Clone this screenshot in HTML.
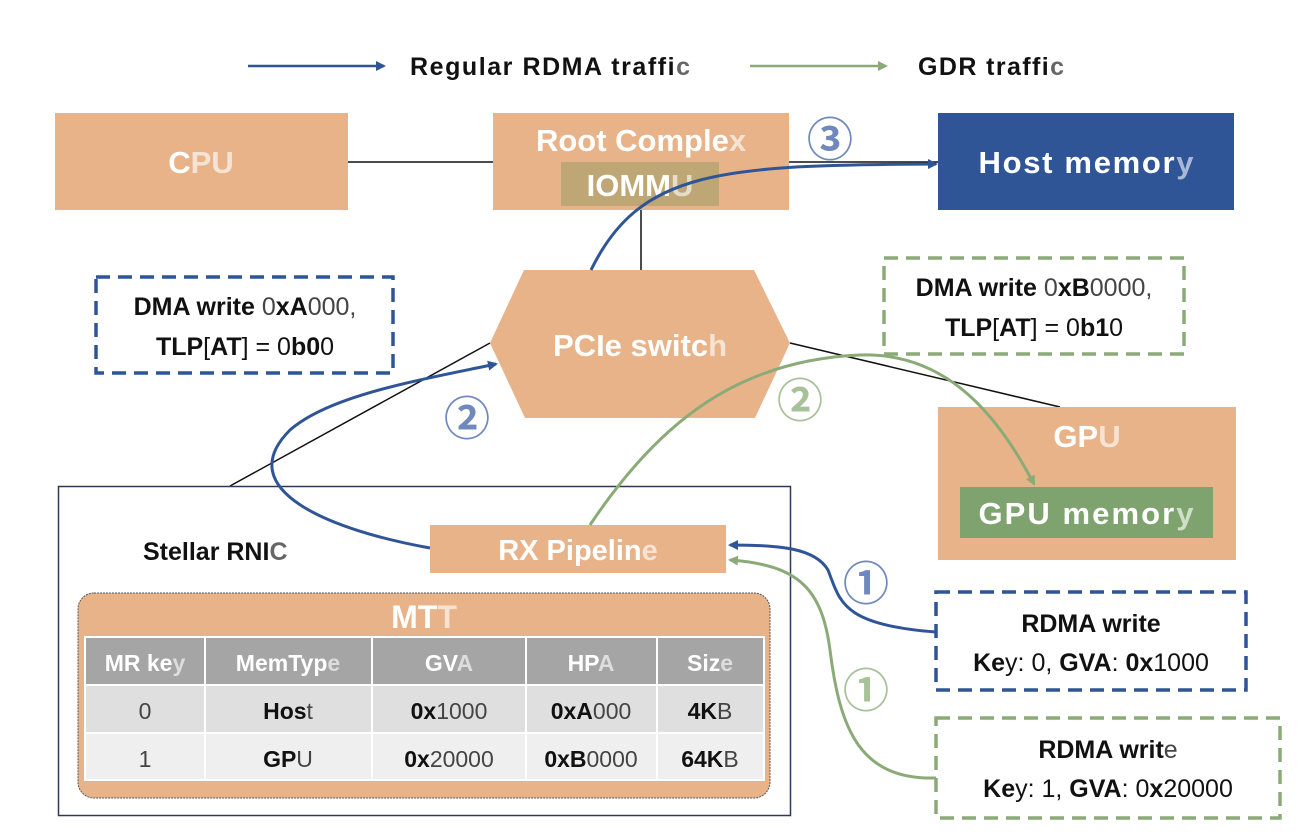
<!DOCTYPE html>
<html><head><meta charset="utf-8"><style>
html,body{margin:0;padding:0;background:#fff;}
svg{display:block;font-family:"Liberation Sans",sans-serif;}
.w{fill:#fff;font-weight:bold;}
</style></head><body>
<svg width="1312" height="836" viewBox="0 0 1312 836" xmlns="http://www.w3.org/2000/svg">
<defs>
<marker id="ab" markerWidth="10" markerHeight="10" refX="8" refY="5" orient="auto" markerUnits="userSpaceOnUse"><path d="M0,0 L10,5 L0,10 z" fill="#2F5597"/></marker>
<marker id="ag" markerWidth="10" markerHeight="10" refX="8" refY="5" orient="auto" markerUnits="userSpaceOnUse"><path d="M0,0 L10,5 L0,10 z" fill="#8AAB78"/></marker>
</defs>
<!-- legend -->
<line x1="248" y1="66" x2="384" y2="66" stroke="#2F5597" stroke-width="2.5" marker-end="url(#ab)"/>
<text x="410" y="75" font-size="25" font-weight="bold" fill="#111" textLength="280">Regular RDMA traffi<tspan fill="#666">c</tspan></text>
<line x1="750" y1="66" x2="886" y2="66" stroke="#8AAB78" stroke-width="2.5" marker-end="url(#ag)"/>
<text x="918" y="75" font-size="25" font-weight="bold" fill="#111" textLength="146">GDR traffi<tspan fill="#666">c</tspan></text>

<!-- connector lines -->
<line x1="348" y1="162" x2="493" y2="162" stroke="#111" stroke-width="1.5"/>
<line x1="789" y1="162" x2="938" y2="162" stroke="#111" stroke-width="1.5"/>
<line x1="641" y1="210" x2="641" y2="270" stroke="#111" stroke-width="1.5"/>
<line x1="490" y1="343" x2="230" y2="486" stroke="#111" stroke-width="1.5"/>
<line x1="790" y1="343" x2="1060" y2="407" stroke="#111" stroke-width="1.5"/>

<!-- CPU -->
<rect x="55" y="113" width="293" height="97" fill="#E9B38A"/>
<text x="201" y="173" font-size="31" class="w" text-anchor="middle">C<tspan fill="#f7e3d3">PU</tspan></text>
<!-- Root complex -->
<rect x="493" y="113" width="296" height="97" fill="#E9B38A"/>
<text x="641" y="151" font-size="31" class="w" text-anchor="middle">Root Comple<tspan fill="#f7e3d3">x</tspan></text>
<rect x="561" y="162" width="158" height="44" fill="#BFA675"/>
<text x="640" y="196" font-size="31" class="w" text-anchor="middle">IOMM<tspan fill="#e6dccb">U</tspan></text>
<!-- Host memory -->
<rect x="938" y="113" width="296" height="97" fill="#2F5597"/>
<text x="1086" y="173" font-size="31" class="w" text-anchor="middle" textLength="215">Host memor<tspan fill="#aab8d6">y</tspan></text>

<!-- PCIe switch -->
<polygon points="524,270 754,270 790,343 755,418 525,418 490,343" fill="#E9B38A"/>
<text x="640" y="356" font-size="31" class="w" text-anchor="middle">PCIe switc<tspan fill="#f7e3d3">h</tspan></text>

<!-- DMA boxes -->
<rect x="96" y="277" width="297" height="96" fill="#fff" stroke="#2F5597" stroke-width="3.5" stroke-dasharray="14,8"/>
<text x="245" y="315" font-size="25" fill="#111" text-anchor="middle"><tspan font-weight="bold">DMA write </tspan><tspan fill="#444">0</tspan><tspan font-weight="bold">xA</tspan><tspan fill="#444">000,</tspan></text>
<text x="245" y="355" font-size="25" fill="#111" text-anchor="middle"><tspan font-weight="bold">TLP</tspan>[<tspan font-weight="bold">AT</tspan>] = 0<tspan font-weight="bold">b0</tspan>0</text>
<rect x="884" y="258" width="300" height="96" fill="#fff" stroke="#8AAB78" stroke-width="3.5" stroke-dasharray="14,8"/>
<text x="1034" y="296" font-size="25" fill="#111" text-anchor="middle"><tspan font-weight="bold">DMA write </tspan><tspan fill="#444">0</tspan><tspan font-weight="bold">xB</tspan><tspan fill="#444">0000,</tspan></text>
<text x="1034" y="336" font-size="25" fill="#111" text-anchor="middle"><tspan font-weight="bold">TLP</tspan>[<tspan font-weight="bold">AT</tspan>] = 0<tspan font-weight="bold">b1</tspan>0</text>

<!-- GPU -->
<rect x="938" y="407" width="298" height="153" fill="#E9B38A"/>
<text x="1087" y="447" font-size="31" class="w" text-anchor="middle">GP<tspan fill="#f7e3d3">U</tspan></text>
<rect x="960" y="487" width="253" height="51" fill="#7FA36F"/>
<text x="1086" y="524" font-size="31" class="w" text-anchor="middle" textLength="215">GPU memor<tspan fill="#cfdec6">y</tspan></text>

<!-- Stellar RNIC -->
<rect x="58.5" y="486.5" width="732" height="329" fill="none" stroke="#2b3a55" stroke-width="1.5"/>
<text x="143" y="560" font-size="25" font-weight="bold" fill="#111">Stellar RNI<tspan fill="#666">C</tspan></text>
<rect x="430" y="525" width="296" height="48" fill="#E9B38A"/>
<text x="578" y="560" font-size="29" class="w" text-anchor="middle">RX Pipelin<tspan fill="#f7e3d3">e</tspan></text>

<!-- MTT -->
<rect x="78" y="593" width="692" height="205" rx="16" fill="#E9B38A" stroke="#555" stroke-width="1" stroke-dasharray="2,1"/>
<text x="424" y="628" font-size="32" class="w" text-anchor="middle">MT<tspan fill="#f7e3d3">T</tspan></text>
<rect x="85" y="637" width="679" height="47" fill="#A5A5A5"/>
<rect x="85" y="686" width="679" height="46" fill="#DFDFDF"/>
<rect x="85" y="734" width="679" height="46" fill="#EFEFEF"/>
<g stroke="#fff" stroke-width="2">
<line x1="85" y1="685" x2="764" y2="685"/><line x1="85" y1="733" x2="764" y2="733"/>
<line x1="205" y1="637" x2="205" y2="780"/><line x1="372" y1="637" x2="372" y2="780"/>
<line x1="526" y1="637" x2="526" y2="780"/><line x1="657" y1="637" x2="657" y2="780"/>
<rect x="85" y="637" width="679" height="143" fill="none"/>
</g>
<g font-size="23" text-anchor="middle">
<text x="145" y="671" class="w">MR ke<tspan fill="#ddd">y</tspan></text>
<text x="288" y="671" class="w">MemTyp<tspan fill="#ddd">e</tspan></text>
<text x="449" y="671" class="w">GV<tspan fill="#ddd">A</tspan></text>
<text x="591" y="671" class="w">HP<tspan fill="#ddd">A</tspan></text>
<text x="710" y="671" class="w">Siz<tspan fill="#ddd">e</tspan></text>
<text x="145" y="719" fill="#444">0</text>
<text x="288" y="719" fill="#111"><tspan font-weight="bold">Hos</tspan><tspan fill="#444">t</tspan></text>
<text x="449" y="719" fill="#444"><tspan font-weight="bold" fill="#111">0x</tspan>1000</text>
<text x="591" y="719" fill="#444"><tspan font-weight="bold" fill="#111">0xA</tspan>000</text>
<text x="710" y="719" fill="#444"><tspan font-weight="bold" fill="#111">4K</tspan>B</text>
<text x="145" y="767" fill="#444">1</text>
<text x="288" y="767" fill="#111"><tspan font-weight="bold">GP</tspan><tspan fill="#444">U</tspan></text>
<text x="449" y="767" fill="#444"><tspan font-weight="bold" fill="#111">0x</tspan>20000</text>
<text x="591" y="767" fill="#444"><tspan font-weight="bold" fill="#111">0xB</tspan>0000</text>
<text x="710" y="767" fill="#444"><tspan font-weight="bold" fill="#111">64K</tspan>B</text>
</g>

<!-- RDMA write boxes -->
<rect x="936" y="592" width="310" height="98" fill="#fff" stroke="#2F5597" stroke-width="3.5" stroke-dasharray="14,8"/>
<text x="1091" y="632" font-size="25" font-weight="bold" fill="#111" text-anchor="middle">RDMA write</text>
<text x="1091" y="671" font-size="25" fill="#111" text-anchor="middle"><tspan font-weight="bold">Ke</tspan>y: 0, <tspan font-weight="bold">GVA</tspan>: <tspan font-weight="bold">0x</tspan>1000</text>
<rect x="936" y="718" width="344" height="100" fill="#fff" stroke="#8AAB78" stroke-width="3.5" stroke-dasharray="14,8"/>
<text x="1108" y="758" font-size="25" font-weight="bold" fill="#111" text-anchor="middle">RDMA writ<tspan fill="#444" font-weight="normal">e</tspan></text>
<text x="1108" y="797" font-size="25" fill="#111" text-anchor="middle"><tspan font-weight="bold">Ke</tspan>y: 1, <tspan font-weight="bold">GVA</tspan>: 0<tspan font-weight="bold">x</tspan>20000</text>

<!-- curves -->
<path d="M430,548 C330,530 230,490 290,430 C330,395 420,380 496,364" fill="none" stroke="#2F5597" stroke-width="3" marker-end="url(#ab)"/>
<path d="M591,270 C640,170 720,165 936,164" fill="none" stroke="#2F5597" stroke-width="3" marker-end="url(#ab)"/>
<path d="M936,632 C840,625 840,600 828,570 C815,548 780,545 730,545" fill="none" stroke="#2F5597" stroke-width="3" marker-end="url(#ab)"/>
<path d="M590,525 C660,420 740,360 860,355 C950,352 1000,420 1034,484" fill="none" stroke="#8AAB78" stroke-width="3" marker-end="url(#ag)"/>
<path d="M936,778 C860,780 840,730 830,650 C822,590 800,565 730,560" fill="none" stroke="#8AAB78" stroke-width="3" marker-end="url(#ag)"/>

<!-- circled numbers -->
<g font-size="46" text-anchor="middle" font-weight="bold" font-family="'Noto Sans CJK SC',sans-serif">
<text x="830" y="156" fill="#6F88BE">③</text>
<text x="467" y="435" fill="#6F88BE">②</text>
<text x="800" y="417" fill="#A7C199">②</text>
<text x="866" y="600" fill="#6F88BE">①</text>
<text x="866" y="707" fill="#A7C199">①</text>
</g>
</svg>
</body></html>
